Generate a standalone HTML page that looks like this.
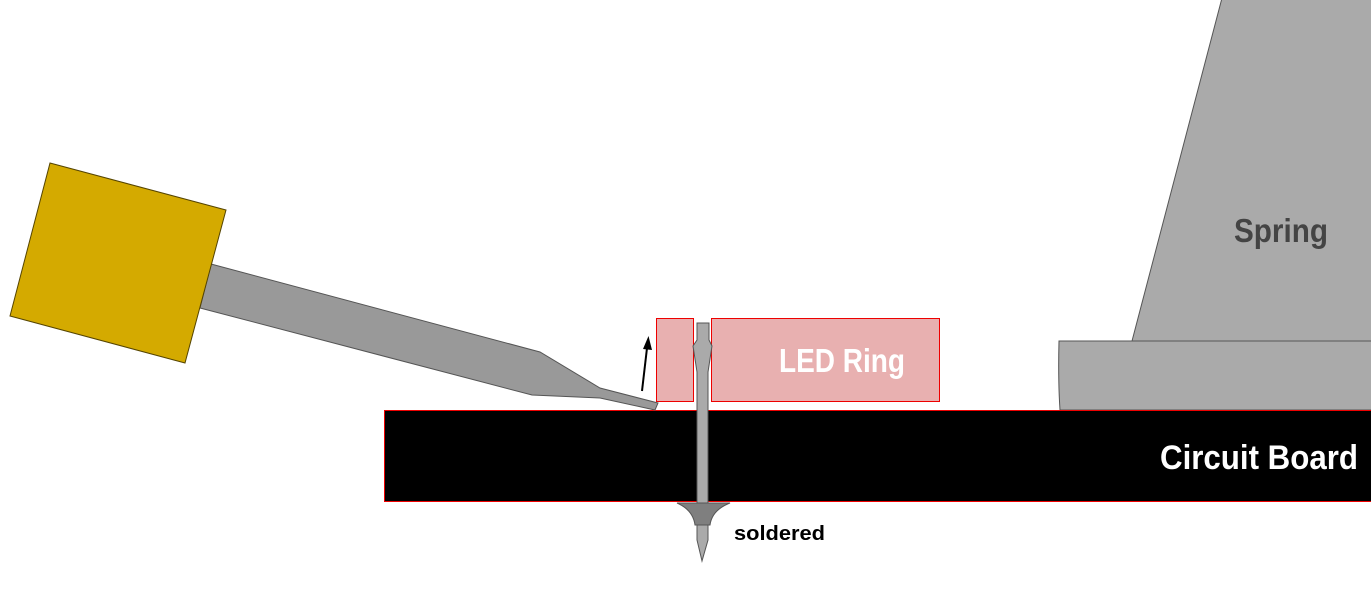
<!DOCTYPE html>
<html><head><meta charset="utf-8"><style>html,body{margin:0;padding:0;background:#fff}svg{display:block}</style></head>
<body>
<svg width="1371" height="608" viewBox="0 0 1371 608" xmlns="http://www.w3.org/2000/svg" font-family="Liberation Sans, sans-serif">
<!-- spring -->
<polygon points="1222,-2 1373,-2 1373,341 1132,341" fill="#aaaaaa" stroke="#555" stroke-width="1"/>
<path d="M1059,341 L1373,341 L1373,410 L1060,410 Q1058,380 1059,341 Z" fill="#aaaaaa" stroke="#555" stroke-width="1"/>
<text x="1234" y="242" font-size="33" fill="#444" font-weight="bold" textLength="94" lengthAdjust="spacingAndGlyphs">Spring</text>
<!-- board -->
<rect x="384.5" y="410.5" width="990" height="91" fill="#000" stroke="#e00" stroke-width="1"/>
<text x="1160" y="469" font-size="34" fill="#fff" font-weight="bold" textLength="198" lengthAdjust="spacingAndGlyphs">Circuit Board</text>
<!-- LED ring -->
<rect x="656.5" y="318.5" width="37" height="83" fill="#e8b0b0" stroke="#e00" stroke-width="1"/>
<rect x="711.5" y="318.5" width="228" height="83" fill="#e8b0b0" stroke="#e00" stroke-width="1"/>
<text x="779" y="372" font-size="33" fill="#fff" font-weight="bold" textLength="126" lengthAdjust="spacingAndGlyphs">LED Ring</text>
<!-- pin -->
<path d="M697,323 L709,323 L709,340 L712,346 L708,372 L708,503 L697,503 L697,372 L693,346 L697,340 Z" fill="#aaaaaa" stroke="#555" stroke-width="1"/>
<path d="M677,503 L730,503 Q712,510 710,525 L695,525 Q693,510 677,503 Z" fill="#7f7f7f" stroke="#555" stroke-width="1"/>
<path d="M697,525 L708,525 L708,540 L702,561 L697,540 Z" fill="#aaaaaa" stroke="#555" stroke-width="1"/>
<text x="734" y="540" font-size="20" fill="#000" font-weight="bold" textLength="91" lengthAdjust="spacingAndGlyphs">soldered</text>
<!-- tweezers -->
<polygon points="211,264 540,352 600,388 658,403 655,410 600,398 532,395 200,308" fill="#999" stroke="#555" stroke-width="1"/>
<polygon points="50,163 226,210 185,363 10,316" fill="#d4aa00" stroke="#554400" stroke-width="1"/>
<!-- arrow -->
<line x1="642" y1="391" x2="647" y2="348" stroke="#000" stroke-width="2"/>
<polygon points="648.5,336 652,350 643,349" fill="#000"/>
</svg>
</body></html>
